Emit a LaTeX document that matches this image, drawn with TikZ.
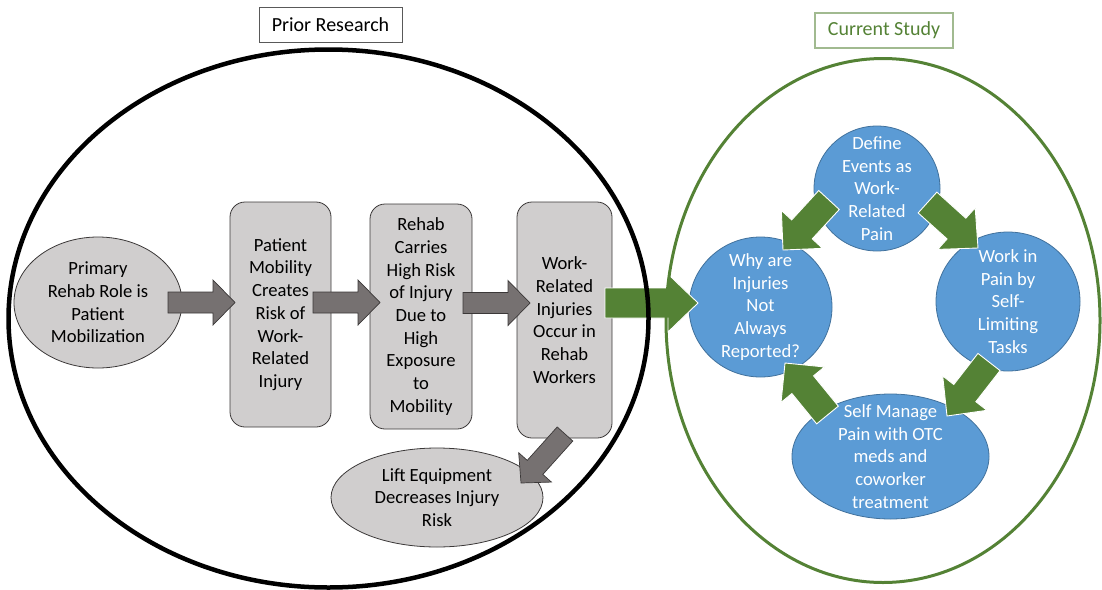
\documentclass[tikz,border=0pt]{standalone}
\usepackage{fontspec}
\setmainfont{Carlito}
\usetikzlibrary{shapes.geometric,calc}

\definecolor{boxgray}{HTML}{D0CECE}
\definecolor{arrgray}{HTML}{767171}
\definecolor{edgegray}{HTML}{3B3838}
\definecolor{accblue}{HTML}{5B9BD5}
\definecolor{blueedge}{HTML}{41719C}
\definecolor{accgreen}{HTML}{548235}

% block arrow: style, tail, tip, shaft half-width, head half-width, head length
\newcommand\blockarr[6]{%
  \coordinate (#2-#3-base) at ($(#3)!#6!(#2)$);
  \draw[#1] ($(#2)!#4!90:(#3)$) -- ($(#2-#3-base)!#4!90:(#3)$)
    -- ($(#2-#3-base)!#5!90:(#3)$) -- (#3)
    -- ($(#2-#3-base)!#5!-90:(#3)$) -- ($(#2-#3-base)!#4!-90:(#3)$)
    -- ($(#2)!#4!-90:(#3)$) -- cycle;}

\tikzset{
  txt/.style={font=\fontsize{18.6}{22.7}\selectfont, align=center},
  graybox/.style={draw=edgegray, line width=0.8pt, fill=boxgray, rounded corners=15pt,
    inner sep=0pt, txt},
  grayoval/.style={ellipse, draw=edgegray, line width=0.8pt, fill=boxgray, inner sep=0pt},
  blueoval/.style={ellipse, draw=blueedge, line width=0.8pt, fill=accblue, inner sep=0pt},
  darklabel/.style={txt, text=black},
  whitelabel/.style={txt, text=white},
  grayarrow/.style={fill=arrgray, draw=edgegray, line width=0.7pt, line join=miter},
  greenarrow/.style={fill=accgreen, draw=white, line width=0.9pt, line join=miter},
  titlebox/.style={inner sep=0pt, font=\fontsize{20}{24}\selectfont},
}

\begin{document}
\begin{tikzpicture}[x=1pt, y=-1pt]
\useasboundingbox (0,0) rectangle (1102,589);

% ---- prior research chain ----
\node[grayoval, minimum width=168, minimum height=131,
  label={[darklabel]center:{Primary\\Rehab Role is\\Patient\\Mobilization}}] (role) at (98,302.5) {};
\node[graybox, minimum width=101, minimum height=225] (mob) at (280.5,314.5)
  {Patient\\Mobility\\Creates\\Risk of\\Work-\\Related\\Injury};
\node[graybox, minimum width=102, minimum height=225] (risk) at (421,316.5)
  {Rehab\\Carries\\High Risk\\of Injury\\Due to\\High\\Exposure\\to\\Mobility};
\node[graybox, minimum width=95, minimum height=236] (occur) at (564.5,320)
  {Work-\\Related\\Injuries\\Occur in\\Rehab\\Workers};
\node[grayoval, minimum width=212, minimum height=99,
  label={[darklabel]center:{Lift Equipment\\Decreases Injury\\Risk}}] (lift) at (437,497.5) {};

% ---- current study cycle ----
\node[blueoval, minimum width=126, minimum height=125,
  label={[whitelabel]center:{Define\\Events as\\Work-\\Related\\Pain}}] (define) at (877,188.5) {};
\node[blueoval, minimum width=143, minimum height=140,
  label={[whitelabel]center:{Why are\\Injuries\\Not\\Always\\Reported?}}] (why) at (760.5,307) {};
\node[blueoval, minimum width=144, minimum height=139,
  label={[whitelabel]center:{Work in\\Pain by\\Self-\\Limiting\\Tasks}}] (work) at (1008,301.5) {};
\node[blueoval, minimum width=197, minimum height=125,
  label={[whitelabel]center:{Self Manage\\Pain with OTC\\meds and\\coworker\\treatment}}] (self) at (890.5,456.5) {};

% ---- arrow ends ----
\coordinate (roleout) at (168,302.5);   \coordinate (mobin) at (235,302.5);
\coordinate (mobout) at (313,302.5);    \coordinate (riskin) at (380,302.5);
\coordinate (riskout) at (463,303);     \coordinate (occurin) at (530,303);
\coordinate (occurdown) at (565,434);   \coordinate (liftin) at (521,483);
\coordinate (occurout) at (605,303);    \coordinate (whyin) at (698,303);
\coordinate (defleft) at (829,200);     \coordinate (whytop) at (783,250);
\coordinate (defright) at (927.5,202.5);\coordinate (worktop) at (978,248);
\coordinate (workout) at (989,362);     \coordinate (selfin) at (947,416);
\coordinate (selfout) at (827.5,415);   \coordinate (whybottom) at (785,363);

\blockarr{grayarrow}{roleout}{mobin}{10.5pt}{22.5pt}{22pt}
\blockarr{grayarrow}{mobout}{riskin}{10.5pt}{22.5pt}{22pt}
\blockarr{grayarrow}{riskout}{occurin}{10.5pt}{22.5pt}{22pt}
\blockarr{grayarrow}{occurdown}{liftin}{10.5pt}{22pt}{21pt}

\blockarr{greenarrow}{occurout}{whyin}{15pt}{29pt}{30pt}
\blockarr{greenarrow}{defleft}{whytop}{14pt}{28pt}{28pt}
\blockarr{greenarrow}{defright}{worktop}{14pt}{28pt}{29pt}
\blockarr{greenarrow}{workout}{selfin}{14pt}{28pt}{29pt}
\blockarr{greenarrow}{selfout}{whybottom}{14pt}{28pt}{28pt}

% ---- enclosing ellipses and titles ----
\draw[line width=4.5pt, black] (328.5,318.5) ellipse [x radius=320, y radius=269];
\draw[line width=3pt, accgreen] (883,320.5) ellipse [x radius=217, y radius=262];

\node[titlebox, draw=black!65, line width=0.8pt, minimum width=143, minimum height=35]
  (prior) at (330.5,24.5) {Prior Research};
\node[titlebox, text=accgreen, draw=accgreen!55, line width=1.2pt, minimum width=138, minimum height=35]
  (current) at (884,30.5) {Current Study};
\end{tikzpicture}
\end{document}
